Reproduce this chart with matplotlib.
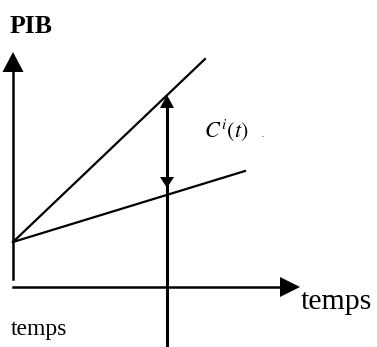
import matplotlib
matplotlib.use("Agg")
import matplotlib.pyplot as plt
from matplotlib.patches import Polygon

plt.rcParams['font.family'] = ['Liberation Serif', 'DejaVu Serif']
plt.rcParams['mathtext.fontset'] = 'stix'

# Schema en coordonnees "image" (x vers la droite, y vers le bas)
axe_pib_x = 13
axe_pib_y = [279, 52]        # bas, pointe de la fleche
axe_temps_y = 287
axe_temps_x = [13, 300]      # debut, pointe de la fleche

# les deux trajectoires partent du meme point
origine = [13, 242]
fin_haute = [205, 59]
fin_basse = [245, 171]

# date du choc et ecart C^i(t)
t_choc = 167
ecart_haut = 95
ecart_bas = 188
bas_vertical = 347


def fleche(ax, pointe, sens, longueur, largeur):
    # petite tete de fleche triangulaire pleine
    x, y = pointe
    dx, dy = sens
    bx, by = x - dx * longueur, y - dy * longueur
    px, py = -dy * largeur / 2, dx * largeur / 2
    ax.add_patch(Polygon([[x, y], [bx + px, by + py], [bx - px, by - py]],
                         closed=True, color='black', lw=0))


fig = plt.figure(figsize=(3.77, 3.47), dpi=100)
ax = fig.add_axes([0, 0, 1, 1])
ax.set_xlim(0, 377)
ax.set_ylim(347, 0)
ax.axis('off')

# axes
ax.plot([axe_pib_x, axe_pib_x], [axe_pib_y[0], axe_pib_y[1] + 15], color='black', lw=1.8)
fleche(ax, (axe_pib_x, axe_pib_y[1]), (0, -1), 20, 21)
ax.plot([axe_temps_x[0], axe_temps_x[1] - 15], [axe_temps_y, axe_temps_y], color='black', lw=1.8)
fleche(ax, (axe_temps_x[1], axe_temps_y), (1, 0), 20, 20)

# trajectoires
ax.plot([origine[0], fin_haute[0]], [origine[1], fin_haute[1]], color='black', lw=1.6)
ax.plot([origine[0], fin_basse[0]], [origine[1], fin_basse[1]], color='black', lw=1.6)

# verticale au moment t et double fleche
ax.plot([t_choc, t_choc], [ecart_haut + 8, bas_vertical], color='black', lw=2.2)
fleche(ax, (t_choc, ecart_haut), (0, -1), 13, 14)
fleche(ax, (t_choc, ecart_bas), (0, 1), 11, 14)

# textes
ax.text(10, 33, 'PIB', fontsize=18.5, fontweight='bold', ha='left', va='baseline')
ax.text(204, 138, r'$C^i(t)$', fontsize=16, ha='left', va='baseline')
ax.text(261, 137, '.', fontsize=6, ha='left', va='baseline')
ax.text(301, 309, 'temps', fontsize=21.5, ha='left', va='baseline')
ax.text(11, 335, 'temps', fontsize=17, ha='left', va='baseline')

fig.savefig('out.png', dpi=100)
